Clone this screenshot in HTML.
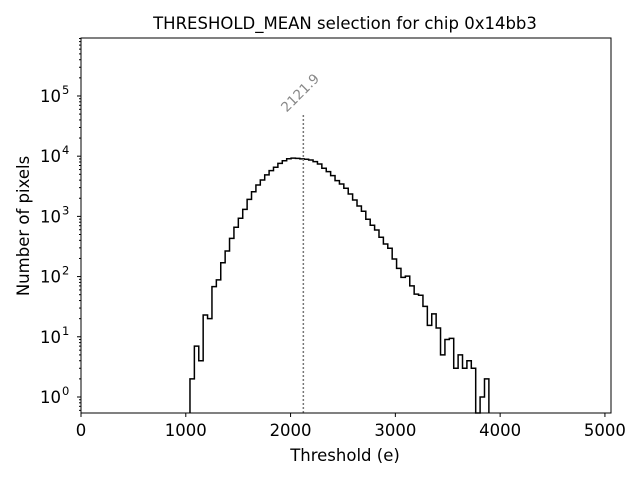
<!DOCTYPE html>
<html><head><meta charset="utf-8"><style>
body{margin:0;background:#fff}
svg text{font-family:"DejaVu Sans","Liberation Sans",sans-serif}
</style></head><body>
<svg id="chart" width="640" height="480" xmlns="http://www.w3.org/2000/svg">
<rect width="640" height="480" fill="#fff"/>
<text x="345" y="29" font-size="16.5" text-anchor="middle">THRESHOLD_MEAN selection for chip 0x14bb3</text>
<g id="plot"></g>
<text x="345" y="461" font-size="16.5" text-anchor="middle">Threshold (e)</text>
<text transform="translate(29,226) rotate(-90)" font-size="16.5" text-anchor="middle">Number of pixels</text>
</svg>
<script>
const binStart = 1040;
const binWidth = 41.95;
const counts = [2,7,4,23,20,68,88,170,266,432,660,930,1310,1920,2570,3320,4030,4890,5750,6540,7600,8400,9060,9300,9200,9000,8900,8650,8100,7420,6300,5530,4750,3920,3450,2930,2350,1870,1490,1215,894,711,594,450,348,295,196,137,97,102,70,51,49,32,15.5,24,14,5,9,9.4,3,5,3,4,3,0,1,2];
const xTicks = [0,1000,2000,3000,4000,5000];
const yExps = [0,1,2,3,4,5];
const meanValue = 2121.9;

const L=81,R=611,T=38,B=413;
const xMin=0,xMax=5058, yMinE=-0.266, yMaxE=5.963;
function X(v){return L+(v-xMin)/(xMax-xMin)*(R-L);}
function Y(v){const e=v>0?Math.log10(v):yMinE; return B-(Math.max(e,yMinE)-yMinE)/(yMaxE-yMinE)*(B-T);}
const NS="http://www.w3.org/2000/svg";
const g=document.getElementById('plot');
function mk(t,a,p){const e=document.createElementNS(NS,t);for(const k in a)e.setAttribute(k,a[k]);(p||g).appendChild(e);return e;}

let d="M"+X(binStart)+","+B;
counts.forEach((c,i)=>{const x0=X(binStart+i*binWidth),x1=X(binStart+(i+1)*binWidth),y=Y(c);d+=" L"+x0+","+y+" L"+x1+","+y;});
d+=" L"+X(binStart+counts.length*binWidth)+","+B;
const hist=mk('path',{d:d,fill:'none',stroke:'#000','stroke-width':1.5});



const mx=X(meanValue);
const ml=mk('line',{x1:mx,x2:mx,y1:B,y2:Y(50000),stroke:'#777','stroke-width':1.5,'stroke-dasharray':'2,2'});


const mt=mk('text',{x:mx,y:Y(50000)-18,'font-size':13.5,fill:'#888','text-anchor':'middle',transform:`rotate(-45 ${mx} ${Y(50000)-18})`});
mt.textContent=meanValue.toFixed(1);



const fr=mk('rect',{x:L,y:T,width:R-L,height:B-T,fill:'none',stroke:'#000','stroke-width':1});



xTicks.forEach(v=>{const x=X(v);
 mk('line',{x1:x,x2:x,y1:B,y2:B+4,stroke:'#000'});
 const t=mk('text',{x:x,y:B+23,'font-size':16.5,'text-anchor':'middle'});t.textContent=v;
 
 
});
for(let e=-1;e<=5;e++){for(let m=1;m<10;m++){const v=m*Math.pow(10,e);const le=Math.log10(v);if(le<yMinE||le>yMaxE)continue;const y=Y(v);
 mk('line',{x1:L-(m===1?4:2),x2:L,y1:y,y2:y,stroke:'#000'});}}
yExps.forEach(e=>{const y=Y(Math.pow(10,e));
 const t=mk('text',{x:L-20,y:y+6,'font-size':16.5,'text-anchor':'end'});t.textContent='10';
 
 
 const s=mk('text',{x:L-19,y:y-2,'font-size':11.5});s.textContent=e;
 
 
});
</script>
</body></html>
